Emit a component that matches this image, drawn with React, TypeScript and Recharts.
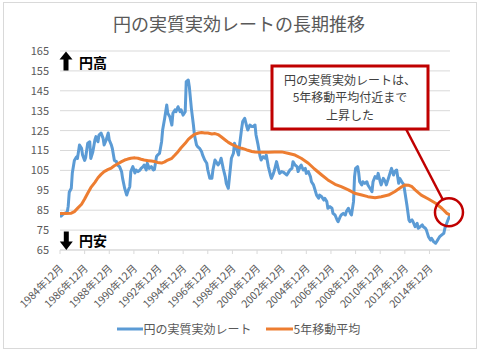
import React from 'react';
import { LineChart, Line, XAxis, YAxis, CartesianGrid, Legend, ReferenceDot } from 'recharts';

// month index counted from 1984年12月 (0)
const rateMonths = [0,1,3,5,7,8,9,11,12,14,16,17,19,21,22,24,25,27,29,30,32,34,35,37,38,40,42,43,45,47,48,50,51,53,55,56,58,60,61,63,65,66,68,69,71,73,74,76,78,79,81,82,84,85,87,89,91,92,94,95,97,99,100,102,104,105,107,109,110,112,113,115,117,118,120,122,123,125,126,128,130,131,133,134,136,138,139,141,143,144,146,148,149,151,152,154,156,157,159,161,162,164,165,167,169,170,172,174,175,177,178,180,182,183,185,187,188,190,191,193,195,196,198,200,201,203,205,206,208,209,211,213,214,216,218,219,221,222,224,226,227,229,231,232,234,235,237,239,240,242,244,245,247,248,250,252,253,255,257,258,260,261,263,265,266,268,270,271,273,274,276,278,279,281,283,284,286,287,288,290,291,292,294,295,297,299,300,302,304,305,307,309,310,312,313,315,317,318,320,322,323,325,326,328,330,331,333,335,336,338,340,341,343,344,346,348,349,351,353,354,356,357,359,361,362,364,366,367,369,370,372,374,375,378,380];
const rateValues = [84,82,83,83.5,84,87,94,96,103.7,110,111.7,111,117.8,116.1,112.7,110,111.5,118.7,119.4,111,114.4,120.3,122,119.4,122.8,123.8,121.1,117.8,120.3,123.8,120.3,117.8,116,110,109.4,107.7,106.9,104.4,101,96,92.6,94.3,96.8,104.4,106.9,103.7,105.2,104.4,105.2,106,106.9,107.7,105.2,108.6,106,106.9,105.2,105.5,111.9,112.7,113.6,119.4,125.3,131.2,137.9,133.7,132,127.8,133.7,135.4,134.5,137,134.5,135.4,132.8,134.5,149.6,150.4,147.1,136.2,127.8,122.8,117.8,117,116.1,114.4,112.7,110.2,108.6,105.2,101,101,105.2,110.2,109.4,107.7,109.4,111.1,106,101.9,98.5,96,101,111.1,113.6,118.6,116,112.7,117.8,126.1,129.5,131.2,127,125.3,127.8,127,127,127.8,122.8,117.8,111.9,110.2,111.9,111.1,112.7,106.9,102.7,101,103.5,105.2,109.4,105.2,103.5,104.4,104,103.5,102.7,103.5,105.2,106,109.4,107.7,106.9,104.4,106.9,107.7,105.2,106,103.5,104.4,101.9,99.3,97.7,96,92.6,91,92.6,91.8,90.1,91,89.3,86,86.8,86,83.4,82.6,80.1,79.2,81.7,82.6,83.4,82.6,84.3,86,83.4,82.6,89.3,101.9,106,106.9,104,99.3,97.7,99.3,98.5,99.3,97.7,96,94.3,99.3,101.9,101,103.5,99.3,97.7,101,99.3,97.7,101,104.4,106,102.7,104.4,105.2,98.5,101,99.3,97.7,94.3,87.6,80.1,79.2,80.1,79.2,76.7,78.4,75.9,76.7,77.6,76.7,75.9,75,71.7,70,70.9,69.2,68.4,69.2,70.9,71.7,72.6,73.4,75.9,80.1,82.6];

const maMonths = [0,5,11,14,17,21,24,27,30,34,37,40,43,47,50,53,56,60,63,66,69,73,76,79,82,86,89,92,95,99,102,105,109,112,115,118,122,125,128,131,135,138,141,144,148,151,154,157,161,164,167,170,174,177,180,183,187,190,196,203,209,216,222,229,235,242,248,255,261,268,274,281,287,294,300,307,313,320,326,333,336,340,343,346,352,359,366,372,377,380];
const maValues = [83.3,83.3,83.5,84.3,85.9,88,90.6,93.5,96.3,99,101.3,103,104.4,105.5,106.2,107.3,108.2,109.4,110.2,110.7,111.1,111.3,111.1,110.6,110.2,109.9,109.7,109.5,109,108.7,109.3,110.2,111.1,112.7,114.4,116.4,118.6,120.6,121.9,123.1,123.8,124,123.8,123.8,123.3,123.5,123,121.9,120.3,119.1,118.2,117.4,116.6,116.1,115.7,115.1,114.5,114.2,114.1,114.1,114.3,114.3,113.6,112.7,111.1,108.6,105.7,102.7,100.2,98,96.8,95.2,93.5,92.6,91.8,91.3,91.8,92.6,94.3,96.8,97.7,97.5,96.8,95.2,92.6,90.6,88.5,86,83.4,82.6];

const tickMonths = [0,24,48,72,96,120,144,168,192,216,240,264,288,312,336,360];
const tickLabels = ['1984年12月','1986年12月','1988年12月','1990年12月','1992年12月','1994年12月','1996年12月','1998年12月','2000年12月','2002年12月','2004年12月','2006年12月','2008年12月','2010年12月','2012年12月','2014年12月'];
const yTicks = [65,75,85,95,105,115,125,135,145,155,165];

const seriesNames = ['円の実質実効レート', '5年移動平均'];
const seriesColors = ['#5b9bd5', '#ed7d31'];

const rateData = rateMonths.map((m, i) => ({ m, v: rateValues[i] }));
const maData = maMonths.map((m, i) => ({ m, v: maValues[i] }));

const FONT = '"Noto Sans CJK JP", "Noto Sans", sans-serif';

const XTick = (props: any) => {
  const { x, y, payload } = props;
  const idx = tickMonths.indexOf(payload.value);
  const label = idx >= 0 ? tickLabels[idx] : '';
  const ax = x + 4;
  const ay = y + 13;
  return (
    <text x={ax} y={ay} transform={`rotate(-45 ${ax} ${ay})`} textAnchor="end" fontSize={10.5} fill="#595959" fontFamily={FONT}>
      {label}
    </text>
  );
};

const LegendContent = () => (
  <svg width={478} height={20} style={{ display: 'block', overflow: 'visible' }}>
    <line x1={117} y1={9} x2={143} y2={9} stroke={seriesColors[0]} strokeWidth={3} />
    <text x={143.5} y={13.5} fontSize={12} fill="#595959" fontFamily={FONT}>{seriesNames[0]}</text>
    <line x1={266} y1={9} x2={293} y2={9} stroke={seriesColors[1]} strokeWidth={3} />
    <text x={293.5} y={13.5} fontSize={12} fill="#595959" fontFamily={FONT}>{seriesNames[1]}</text>
  </svg>
);

export default function App() {
  return (
    <div style={{ position: 'absolute', left: 0, top: 0, width: 478, height: 351, background: '#fff', fontFamily: FONT }}>
      <div style={{ position: 'absolute', left: 3, top: 2, width: 472, height: 345, border: '1px solid #d9d9d9' }} />
      <LineChart width={478} height={351} margin={{ top: 51, right: 28, bottom: 0, left: 0 }}>
        <CartesianGrid vertical={false} stroke="#d9d9d9" />
        <XAxis
          type="number"
          dataKey="m"
          domain={[0, 380]}
          ticks={tickMonths}
          interval={0}
          height={101}
          tick={<XTick />}
          tickSize={4}
          axisLine={{ stroke: '#d9d9d9' }}
          tickLine={{ stroke: '#d9d9d9' }}
          allowDataOverflow
        />
        <YAxis
          type="number"
          domain={[65, 165]}
          ticks={yTicks}
          interval={0}
          width={60}
          axisLine={false}
          tickLine={false}
          tickMargin={5}
          tick={{ fontSize: 11, fill: '#595959', fontFamily: FONT }}
        />
        <Line data={rateData} dataKey="v" name={seriesNames[0]} stroke={seriesColors[0]} strokeWidth={3} dot={false} isAnimationActive={false} strokeLinejoin="round" />
        <Line data={maData} dataKey="v" name={seriesNames[1]} stroke={seriesColors[1]} strokeWidth={3} dot={false} isAnimationActive={false} strokeLinejoin="round" />
        <ReferenceDot x={379} y={84} r={14} fill="none" stroke="#c00000" strokeWidth={2.5} ifOverflow="visible" />
        <Legend content={<LegendContent />} wrapperStyle={{ left: 0, top: 320, width: 478, height: 0 }} />
      </LineChart>
      <svg width={478} height={351} style={{ position: 'absolute', left: 0, top: 0, pointerEvents: 'none' }}>
        <text x={239} y={30.5} textAnchor="middle" fontSize={18} fill="#595959" fontFamily={FONT}>円の実質実効レートの長期推移</text>
        <polygon points="66,51.5 72.5,59.5 68.5,59.5 68.5,70.5 63.5,70.5 63.5,59.5 59.5,59.5" fill="#000" />
        <text x={79} y={67.5} fontSize={14} fontWeight="bold" fill="#000" fontFamily={FONT}>円高</text>
        <polygon points="63.8,231.5 68.8,231.5 68.8,241.5 72.8,241.5 66.3,250 59.8,241.5 63.8,241.5" fill="#000" />
        <text x={79} y={246} fontSize={14} fontWeight="bold" fill="#000" fontFamily={FONT}>円安</text>
        <line x1={406} y1={129} x2={443} y2={200} stroke="#c00000" strokeWidth={2.5} />
        <rect x={272} y={66} width={156} height={63} fill="#fff" stroke="#c00000" strokeWidth={3} />
        <text x={350} y={84.5} textAnchor="middle" fontSize={12} fill="#404040" fontFamily={FONT}>円の実質実効レートは、</text>
        <text x={350} y={101.5} textAnchor="middle" fontSize={12} fill="#404040" fontFamily={FONT}>5年移動平均付近まで</text>
        <text x={350} y={119.5} textAnchor="middle" fontSize={12} fill="#404040" fontFamily={FONT}>上昇した</text>
      </svg>
    </div>
  );
}
